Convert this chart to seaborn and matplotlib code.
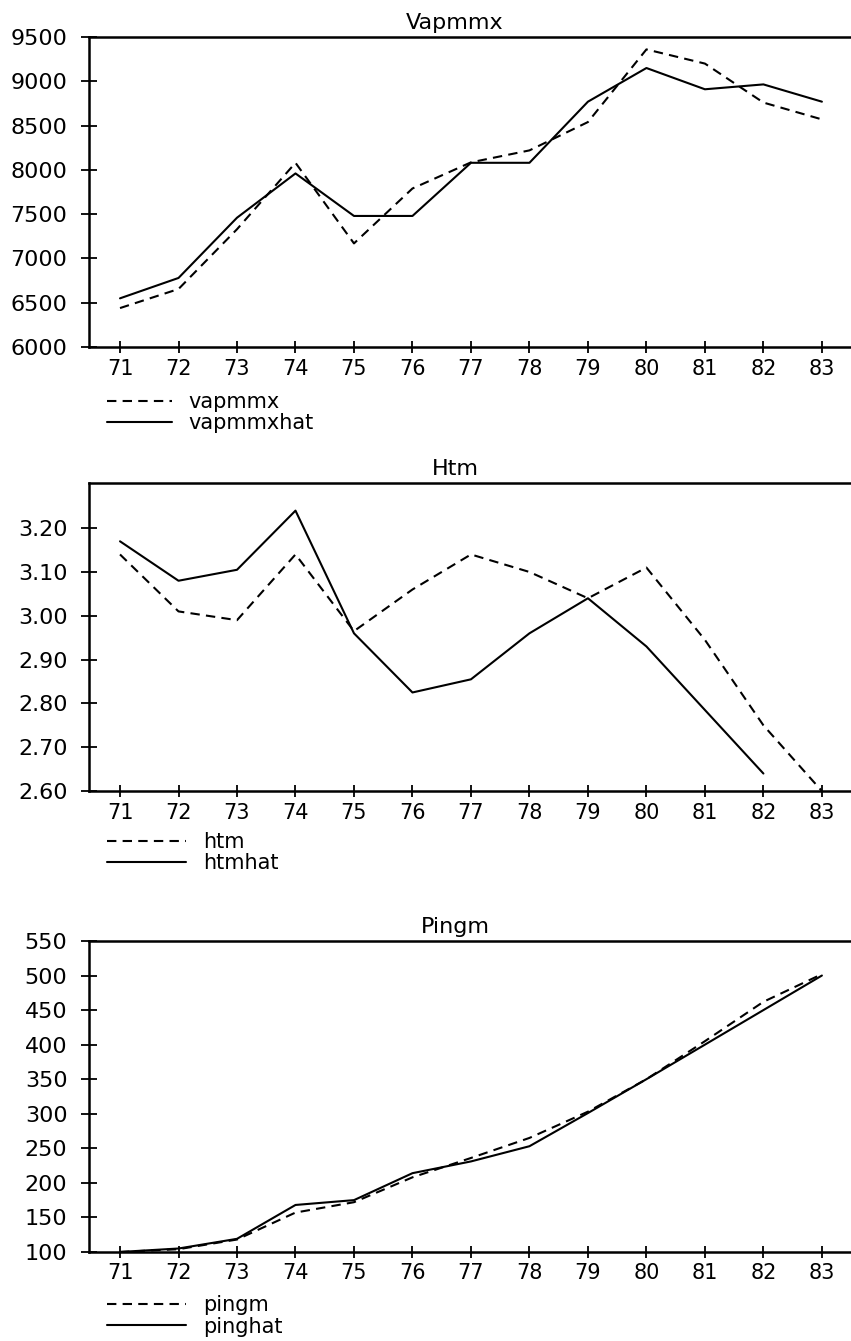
import matplotlib
matplotlib.use("Agg")
import pandas as pd
import numpy as np
import matplotlib.pyplot as plt
import seaborn as sns

sns.set_style("ticks")
plt.rcParams["font.family"] = ["DejaVu Sans"]
plt.rcParams["text.color"] = "black"
plt.rcParams["axes.titlecolor"] = "black"

# data
years = [71, 72, 73, 74, 75, 76, 77, 78, 79, 80, 81, 82, 83]

vapmmx = [6440, 6655, 7330, 8080, 7170, 7790, 8085, 8220, 8540, 9360, 9200, 8760, 8570]
vapmmxhat = [6550, 6780, 7460, 7960, 7480, 7480, 8080, 8080, 8770, 9150, 8910, 8965, 8770]

htm = [3.14, 3.01, 2.99, 3.14, 2.965, 3.06, 3.14, 3.10, 3.04, 3.11, 2.945, 2.75, 2.60]
htmhat = [3.17, 3.08, 3.105, 3.24, 2.96, 2.825, 2.855, 2.96, 3.04, 2.93, 2.785, 2.64, np.nan]

pingm = [100, 104, 118, 157, 172, 208, 236, 265, 303, 350, 405, 462, 502]
pinghat = [100, 105, 119, 168, 175, 214, 231, 253, 301, 350, 400, 450, 500]

# panel settings: title, series names, y limits, y ticks, tick label format
panels = [
    ("Vapmmx", "vapmmx", "vapmmxhat", vapmmx, vapmmxhat,
     (6000, 9500), np.arange(6000, 9501, 500), "{:.0f}"),
    ("Htm", "htm", "htmhat", htm, htmhat,
     (2.60, 3.303), np.arange(2.60, 3.21, 0.10), "{:.2f}"),
    ("Pingm", "pingm", "pinghat", pingm, pinghat,
     (100, 550), np.arange(100, 551, 50), "{:.0f}"),
]

# axes boxes in figure fractions (left, bottom, width, height)
boxes = [
    (0.1046, 0.7412, 0.8942, 0.2312),
    (0.1046, 0.4101, 0.8942, 0.2297),
    (0.1046, 0.0664, 0.8942, 0.2319),
]
legend_y = [-0.146, -0.133, -0.140]
handle_len = [3.1, 3.8, 3.8]

fig = plt.figure(figsize=(8.51, 13.41), dpi=100)

for i, (title, name1, name2, s1, s2, ylim, yticks, fmt) in enumerate(panels):
    ax = fig.add_axes(boxes[i])
    df = pd.DataFrame({"year": years, name1: s1, name2: s2})

    sns.lineplot(data=df, x="year", y=name1, ax=ax, color="black",
                 linewidth=1.5, linestyle=(0, (4.5, 3)), label=name1)
    sns.lineplot(data=df.dropna(), x="year", y=name2, ax=ax, color="black",
                 linewidth=1.5, label=name2)

    ax.set_xlim(70.47, 83.48)
    ax.set_ylim(*ylim)
    ax.set_xticks(years)
    ax.set_xticklabels([str(y) for y in years], fontsize=15)
    ax.set_yticks(yticks)
    ax.set_yticklabels([fmt.format(v) for v in yticks], fontsize=16)
    ax.set_xlabel("")
    ax.set_ylabel("")
    ax.set_title(title, fontsize=16, x=0.481, pad=6, color="black")

    ax.spines["right"].set_visible(False)
    for side in ["left", "top", "bottom"]:
        ax.spines[side].set_linewidth(1.8)
        ax.spines[side].set_color("black")
    ax.tick_params(axis="x", direction="inout", length=8.5, width=1.3,
                   pad=4, colors="black")
    ax.tick_params(axis="y", direction="inout", length=11, width=1.3,
                   pad=10, colors="black")

    leg = ax.legend(loc="upper left", bbox_to_anchor=(0.0237, legend_y[i]),
                    frameon=False, fontsize=15, handlelength=handle_len[i],
                    handletextpad=0.8, labelspacing=0.05, borderpad=0,
                    borderaxespad=0)
    for t in leg.get_texts():
        t.set_color("black")

fig.savefig("out.png", dpi=100, facecolor="white")
